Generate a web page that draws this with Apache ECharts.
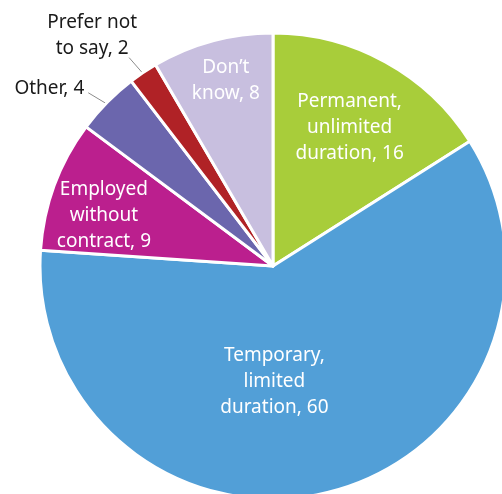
<!DOCTYPE html>
<html>
<head>
<meta charset="utf-8">
<script src="https://cdn.jsdelivr.net/npm/echarts@6/dist/echarts.min.js"></script>
<style>
  html, body { margin: 0; padding: 0; background: #fff; }
  #chart { width: 502px; height: 494px; }
</style>
</head>
<body>
<div id="chart"></div>
<script>
// contract types, clockwise from 12 o'clock
const categories = [
  'Permanent,\nunlimited\nduration',
  'Temporary,\nlimited\nduration',
  'Employed\nwithout\ncontract',
  'Other',
  'Prefer not\nto say',
  'Don\u2019t\nknow'
]
// shares in % (slices, labels show them rounded)
const values = [16.0, 60.0, 9.1, 4.4, 2.0, 8.4]

const colors = ['#a8cd3a', '#529fd7', '#bb1f8e', '#6b66ad', '#b02226', '#c8bfdf']
// which labels sit outside the slice
const outside = [false, false, false, true, true, false]
// nudges from the library's default label spot
const nudge = [[19, -34], [-28, 0], [-57, -9], [-5, -1], [-36, -22], [-16, -70]]
const labelAlign = [null, null, null, 'right', 'center', null]
// where the leader line should end, relative to the library's elbow
const lineEnd = [null, null, null, [-6, 3], [-4, 0], null]

const chart = echarts.init(document.getElementById('chart'))

const seriesData = categories.map((name, i) => ({
  name: name,
  value: values[i],
  itemStyle: { color: colors[i] },
  label: outside[i]
    ? { position: 'outside', color: '#1a1a1a' }
    : { position: 'inside', color: '#fff' },
  labelLine: { show: outside[i] }
}))

chart.setOption({
  animation: false,
  series: [
    {
      type: 'pie',
      center: [273, 266],
      radius: 233,
      startAngle: 90,
      clockwise: true,
      avoidLabelOverlap: false,
      itemStyle: { borderColor: '#fff', borderWidth: 3 },
      label: {
        formatter: p => p.name + ', ' + Math.round(p.value),
        fontFamily: 'Noto Sans',
        fontSize: 19,
        lineHeight: 26,
        align: 'center'
      },
      labelLine: {
        length: 18,
        length2: 0,
        smooth: false,
        lineStyle: { color: '#8c8c8c', width: 1 }
      },
      labelLayout: params => {
        const i = params.dataIndex
        const out = { dx: nudge[i][0], dy: nudge[i][1] }
        if (labelAlign[i]) out.align = labelAlign[i]
        const pts = params.labelLinePoints
        if (outside[i] && pts) {
          // straight leader that starts a little inside the slice
          const ux = pts[1][0] - pts[0][0], uy = pts[1][1] - pts[0][1]
          const len = Math.hypot(ux, uy) || 1
          const start = [pts[0][0] - ux / len * 6, pts[0][1] - uy / len * 6]
          const end = [pts[1][0] + lineEnd[i][0], pts[1][1] + lineEnd[i][1]]
          out.labelLinePoints = [start, end, end]
        }
        return out
      },
      data: seriesData
    }
  ]
})
</script>
</body>
</html>
